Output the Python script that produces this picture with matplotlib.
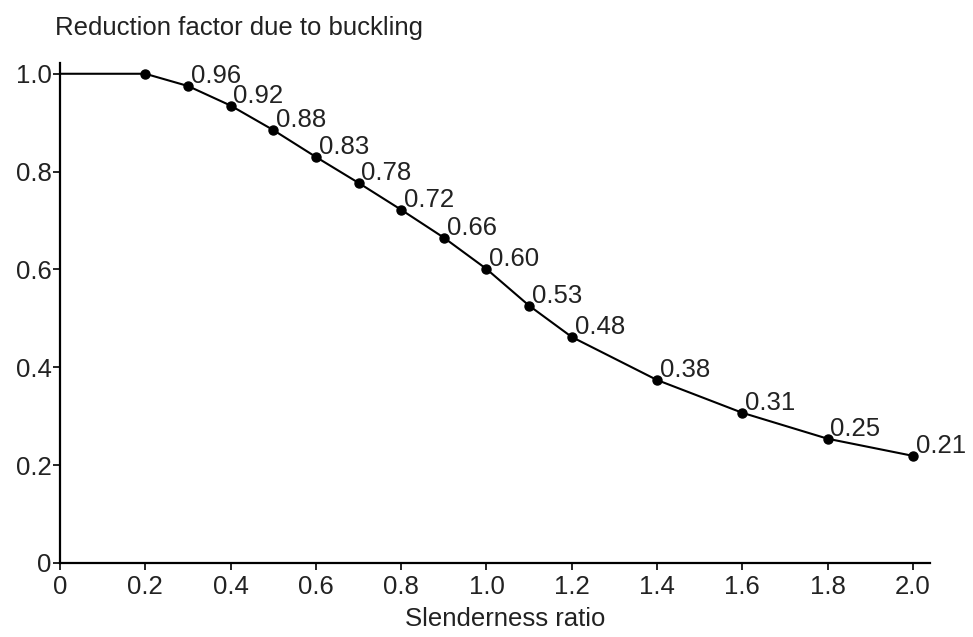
import matplotlib.pyplot as plt

# slenderness ratio vs reduction factor (positions)
slenderness = [0, 0.2, 0.3, 0.4, 0.5, 0.6, 0.7, 0.8, 0.9, 1.0, 1.1, 1.2, 1.4, 1.6, 1.8, 2.0]
reduction = [1.0, 1.0, 0.975, 0.935, 0.885, 0.83, 0.777, 0.722, 0.665, 0.601,
             0.526, 0.462, 0.374, 0.307, 0.254, 0.219]
point_labels = ["", "", "0.96", "0.92", "0.88", "0.83", "0.78", "0.72", "0.66", "0.60",
                "0.53", "0.48", "0.38", "0.31", "0.25", "0.21"]
xticks = [0, 0.2, 0.4, 0.6, 0.8, 1.0, 1.2, 1.4, 1.6, 1.8, 2.0]
xtick_labels = ["0", "0.2", "0.4", "0.6", "0.8", "1.0", "1.2", "1.4", "1.6", "1.8", "2.0"]
yticks = [0, 0.2, 0.4, 0.6, 0.8, 1.0]
ytick_labels = ["0", "0.2", "0.4", "0.6", "0.8", "1.0"]

plt.rcParams['font.family'] = ['Liberation Sans', 'DejaVu Sans']
fs = 18.5
txt_color = '#222222'

fig = plt.figure(figsize=(9.73, 6.37), dpi=100)
ax = fig.add_axes([60 / 973, 74 / 637, 870 / 973, 500 / 637])

ax.plot(slenderness, reduction, '-', color='black', lw=1.5,
        marker='o', markersize=6.5, markevery=list(range(1, len(slenderness))))

for x, y, lab in zip(slenderness, reduction, point_labels):
    if lab:
        ax.annotate(lab, (x, y), xytext=(2, 2), textcoords='offset points',
                    ha='left', va='baseline', fontsize=fs, color=txt_color)

ax.set_xlim(0, 2.04)
ax.set_ylim(0, 1.022)
ax.set_xticks(xticks)
ax.set_xticklabels(xtick_labels)
ax.set_yticks(yticks)
ax.set_yticklabels(ytick_labels)
ax.tick_params(axis='both', direction='out', length=5, width=1.2,
               labelsize=fs, labelcolor=txt_color, pad=1)
ax.tick_params(axis='x', pad=4)

for side in ['top', 'right']:
    ax.spines[side].set_visible(False)
for side in ['left', 'bottom']:
    ax.spines[side].set_linewidth(1.6)

fig.text(55 / 973, 1 - 28 / 637, "Reduction factor due to buckling",
         ha='left', va='center', fontsize=fs, color=txt_color)
fig.text(505 / 973, 1 - 619 / 637, "Slenderness ratio",
         ha='center', va='center', fontsize=fs, color=txt_color)

fig.savefig('out.png', dpi=100)
